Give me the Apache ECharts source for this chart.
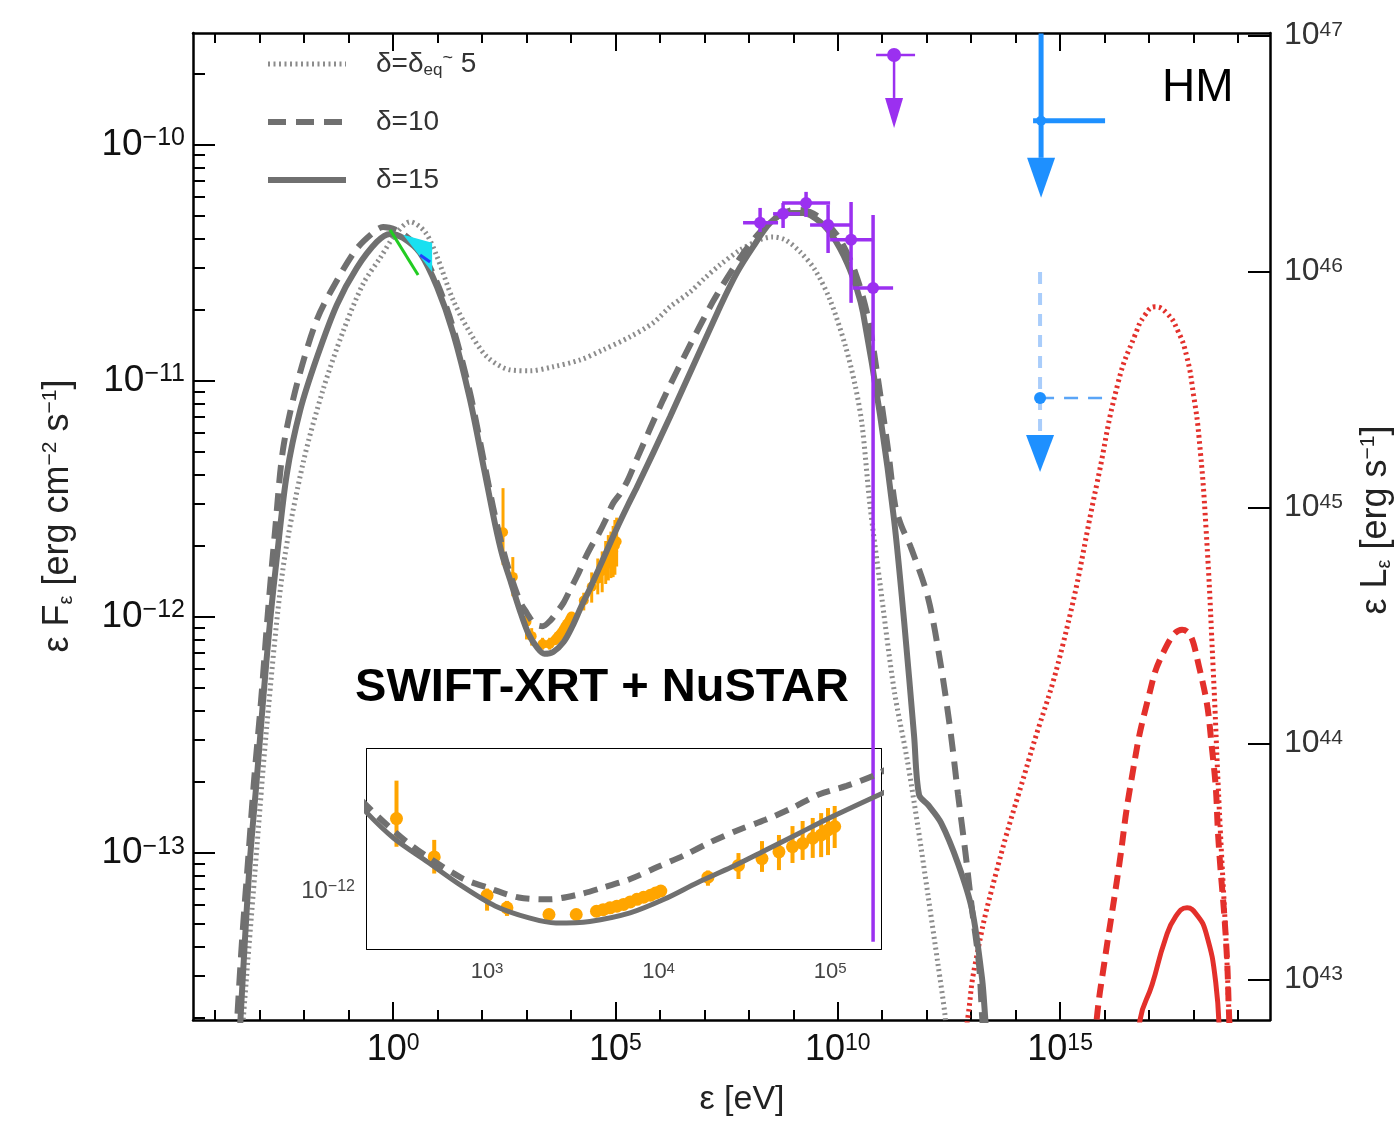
<!DOCTYPE html>
<html><head><meta charset="utf-8">
<script src="https://cdn.jsdelivr.net/npm/echarts@6.0.0/dist/echarts.min.js"></script>
<style>html,body{margin:0;padding:0;background:#fff}#c{width:1395px;height:1123px}</style>
</head><body><div id="c"></div><script>
// ---- DATA: [log10(eps/eV), log10(eps F_eps / erg cm^-2 s^-1)] ----
const dottedModel = [[-3.40,-13.80],[-3.373,-13.712],[-3.103,-13.073],[-2.840,-12.463],[-2.474,-11.794],[-2.024,-11.349],[-1.574,-11.038],[-1.124,-10.792],[-0.675,-10.591],[-0.292,-10.481],[0.045,-10.383],[0.382,-10.328],[0.720,-10.371],[0.989,-10.476],[1.349,-10.659],[1.731,-10.798],[2.114,-10.900],[2.631,-10.955],[3.081,-10.959],[3.598,-10.942],[4.205,-10.913],[4.722,-10.870],[5.329,-10.815],[5.847,-10.756],[6.229,-10.688],[6.679,-10.625],[7.016,-10.565],[7.353,-10.510],[7.803,-10.447],[8.253,-10.404],[8.523,-10.392],[8.815,-10.404],[9.152,-10.455],[9.490,-10.532],[9.827,-10.659],[10.164,-10.849],[10.389,-11.019],[10.546,-11.188],[10.726,-11.531],[10.951,-11.862],[11.266,-12.310],[11.558,-12.603],[11.806,-12.895],[12.031,-13.183],[12.255,-13.475],[12.413,-13.691],[12.45,-13.80]];
const dashedModel = [[-3.53,-13.80],[-3.508,-13.712],[-3.396,-13.369],[-3.261,-13.031],[-3.126,-12.692],[-2.968,-12.353],[-2.811,-11.972],[-2.653,-11.633],[-2.474,-11.29],[-2.159,-11.013],[-1.709,-10.740],[-1.259,-10.575],[-0.810,-10.440],[-0.360,-10.360],[-0.225,-10.350],[0.157,-10.371],[0.607,-10.447],[0.989,-10.587],[1.349,-10.777],[1.731,-11.053],[2.05,-11.35],[2.30,-11.581],[2.555,-11.773],[2.85,-11.935],[3.008,-11.985],[3.185,-12.032],[3.362,-12.041],[3.540,-12.016],[3.677,-11.983],[3.835,-11.941],[3.993,-11.882],[4.150,-11.824],[4.308,-11.757],[4.466,-11.699],[4.623,-11.649],[4.781,-11.590],[4.938,-11.523],[5.096,-11.482],[5.273,-11.424],[5.487,-11.33],[6.071,-11.082],[6.679,-10.849],[7.241,-10.650],[7.803,-10.481],[8.253,-10.371],[8.702,-10.299],[9.040,-10.277],[9.377,-10.286],[9.714,-10.328],[10.052,-10.404],[10.389,-10.540],[10.681,-10.735],[10.906,-10.997],[11.131,-11.294],[11.288,-11.527],[11.423,-11.612],[11.648,-11.709],[12.031,-11.921],[12.323,-12.213],[12.548,-12.505],[12.705,-12.755],[12.863,-12.988],[13.020,-13.242],[13.177,-13.475],[13.245,-13.691],[13.29,-13.80]];
const solidModel = [[-3.46,-13.80],[-3.328,-13.357],[-3.216,-13.022],[-3.065,-12.687],[-2.923,-12.353],[-2.766,-12.018],[-2.615,-11.751],[-2.390,-11.396],[-2.091,-11.127],[-1.716,-10.904],[-1.266,-10.680],[-0.816,-10.523],[-0.367,-10.413],[-0.067,-10.379],[0.225,-10.396],[0.607,-10.460],[0.989,-10.604],[1.349,-10.798],[1.731,-11.082],[2.05,-11.38],[2.30,-11.615],[2.456,-11.740],[2.653,-11.857],[2.850,-11.974],[3.047,-12.074],[3.245,-12.133],[3.402,-12.158],[3.599,-12.150],[3.834,-12.108],[4.032,-12.041],[4.229,-11.958],[4.426,-11.882],[4.623,-11.799],[4.820,-11.715],[5.017,-11.632],[5.293,-11.523],[5.487,-11.45],[6.229,-11.154],[7.353,-10.688],[7.736,-10.542],[8.095,-10.434],[8.478,-10.332],[8.860,-10.290],[9.220,-10.290],[9.602,-10.328],[9.894,-10.392],[10.209,-10.502],[10.434,-10.616],[10.569,-10.714],[10.951,-11.146],[11.266,-11.590],[11.491,-12.018],[11.716,-12.505],[11.828,-12.755],[12.031,-12.798],[12.323,-12.874],[12.705,-13.047],[13.020,-13.242],[13.245,-13.534],[13.312,-13.691],[13.35,-13.80]];
const neutrinoDotted = [[12.85,-13.80],[12.930,-13.691],[13.087,-13.475],[13.560,-13.086],[14.302,-12.603],[15.066,-12.116],[15.831,-11.434],[16.303,-11.010],[16.686,-10.807],[16.911,-10.722],[17.135,-10.688],[17.40,-10.715],[17.65,-10.790],[17.85,-10.900],[18.00,-11.060],[18.125,-11.243],[18.282,-11.629],[18.440,-12.213],[18.575,-12.798],[18.732,-13.378],[18.800,-13.691],[18.83,-13.80]];
const neutrinoDashed = [[15.80,-13.80],[15.831,-13.691],[15.988,-13.475],[16.303,-13.086],[16.596,-12.700],[16.978,-12.349],[17.360,-12.137],[17.742,-12.056],[18.125,-12.213],[18.440,-12.603],[18.575,-12.988],[18.732,-13.378],[18.800,-13.691],[18.82,-13.80]];
const neutrinoSolid = [[16.76,-13.80],[16.798,-13.708],[17.068,-13.560],[17.360,-13.370],[17.60,-13.270],[17.855,-13.234],[18.08,-13.265],[18.282,-13.340],[18.50,-13.55],[18.58,-13.80]];
// X-ray (SWIFT-XRT + NuSTAR): [logE, logF, logF_low, logF_high]
const xrtNustar = [[2.472,-11.643,-11.782,-11.456],[2.692,-11.832,-11.914,-11.748],[3.000,-12.022,-12.097,-11.988],[3.116,-12.083,-12.123,-12.049],[3.361,-12.116,-12.14,-12.09],[3.520,-12.116,-12.14,-12.09],[3.638,-12.100,-12.12,-12.08],[3.677,-12.092,-12.11,-12.075],[3.717,-12.083,-12.10,-12.065],[3.757,-12.075,-12.095,-12.057],[3.796,-12.066,-12.085,-12.05],[3.835,-12.054,-12.073,-12.037],[3.874,-12.041,-12.06,-12.025],[3.913,-12.031,-12.05,-12.015],[3.953,-12.021,-12.04,-12.005],[3.983,-12.010,-12.03,-11.993],[4.013,-12.000,-12.02,-11.985],[4.288,-11.932,-11.974,-11.899],[4.466,-11.874,-11.941,-11.813],[4.603,-11.840,-11.906,-11.754],[4.702,-11.807,-11.897,-11.724],[4.781,-11.782,-11.862,-11.680],[4.840,-11.766,-11.847,-11.655],[4.899,-11.740,-11.837,-11.640],[4.948,-11.724,-11.833,-11.616],[4.988,-11.699,-11.823,-11.591],[5.027,-11.682,-11.788,-11.581]];
// gamma rays: [logE, logF, logE_low, logE_high, logF_low, logF_high]
const fermiPoints = [[8.253,-10.332,7.870,8.657,-10.371,-10.269],[8.770,-10.294,8.545,9.152,-10.354,-10.248],[9.287,-10.248,8.748,9.827,-10.307,-10.201],[9.782,-10.341,9.377,10.277,-10.460,-10.256],[10.299,-10.404,9.827,10.794,-10.671,-10.244],[10.794,-10.608,10.344,11.244,-13.378,-10.299]];
// upper limits: [logE, logF, logE_low, logE_high, logF_high]
const fermiUpperLimit = [[11.266,-9.621,10.861,11.738,-9.621]];
const neutrinoUpperLimit = [[14.572,-9.900,14.392,16.011,-9.53]];
const neutrinoUpperLimitDashed = [[14.549,-11.074,14.549,16.011,-10.540]];
// optical / UV
const opticalGreen = [[-0.067,-10.362],[0.562,-10.553]];
const uvBowtie = [[0.225,-10.383,0.877,-10.417,0.877,-10.540]];
const uvBlue = [[0.607,-10.468],[0.832,-10.498]];
// ticks
const xDecades = [-4,-3,-2,-1,0,1,2,3,4,5,6,7,8,9,10,11,12,13,14,15,16,17,18,19];
const xMajor = [0,5,10,15];
const yMajor = [-13,-12,-11,-10];
const yDecadesMinor = [-14,-13,-12,-11,-10];
const rightMajor = [43,44,45,46,47];
const insetXMajor = [3,4,5];
const insetYMajor = [-12];
const insetYDecades = [-13,-12];
const legendLabels = {d5:'δ=δ{sub|eq}{sup|~} 5', d10:'δ=10', d15:'δ=15'};

// ---- axis ranges ----
const X_MIN=-4.5, X_MAX=19.72, Y_MIN=-13.709, Y_MAX=-9.528, R_OFF=56.538;
const IX_MIN=2.30, IX_MAX=5.297, IY_MIN=-12.286, IY_MAX=-11.300;
const FONT='"Liberation Sans", Arial, Helvetica, sans-serif';

function minorOf(decades, lo, hi){
  const out=[]; decades.forEach(d=>{for(let k=2;k<=9;k++){const v=d+Math.log10(k); if(v>lo&&v<hi) out.push(v);}}); return out;
}
const yMinor = minorOf(yDecadesMinor, Y_MIN, Y_MAX);
const insetYMinor = minorOf(insetYDecades, IY_MIN, IY_MAX);

function expLabel(v){ const n=Math.round(v); return '{b|10}{s|'+(n<0?'\u2212'+(-n):n)+'}'; }
function axisBase(extra){
  return Object.assign({type:'value', splitLine:{show:false},
    axisLine:{show:true,onZero:false,lineStyle:{color:'#000',width:2.5}},
    axisTick:{show:false}, axisLabel:{show:false}}, extra);
}
function noLine(){ return {show:false,onZero:false}; }
function ticks(values,len,w){ return {show:true,inside:true,length:len,customValues:values,lineStyle:{color:'#000',width:w||2}}; }
function labels(values,fs,ss,margin,color){
  return {show:true,customValues:values,margin:margin,formatter:expLabel,color:color,fontFamily:FONT,fontSize:fs,
    rich:{b:{fontSize:fs,fontFamily:FONT,color:color},s:{fontSize:ss,fontFamily:FONT,color:color,verticalAlign:'top'}}};
}

function curve(name,data,color,width,type,xi,yi,z,sm){
  return {type:'line',name:name,data:data,xAxisIndex:xi,yAxisIndex:yi,showSymbol:false,symbol:'none',smooth:sm||0.3,
    lineStyle:{color:color,width:width,type:type,cap:'butt'},itemStyle:{color:color},z:z,silent:true,clip:true,animation:false};
}
function pointErr(color,r,lw){ return function(params,api){
  const x=api.value(0), p=api.coord([x,api.value(1)]), lo=api.coord([x,api.value(2)]), hi=api.coord([x,api.value(3)]);
  return {type:'group',children:[
    {type:'line',shape:{x1:p[0],y1:lo[1],x2:p[0],y2:hi[1]},style:{stroke:color,lineWidth:lw}},
    {type:'circle',shape:{cx:p[0],cy:p[1],r:r},style:{fill:color}}]};
};}
function xyErr(color,r,lw){ return function(params,api){
  const x=api.value(0), y=api.value(1);
  const p=api.coord([x,y]), xl=api.coord([api.value(2),y]), xh=api.coord([api.value(3),y]), yl=api.coord([x,api.value(4)]), yh=api.coord([x,api.value(5)]);
  return {type:'group',children:[
    {type:'line',shape:{x1:xl[0],y1:p[1],x2:xh[0],y2:p[1]},style:{stroke:color,lineWidth:lw}},
    {type:'line',shape:{x1:p[0],y1:yl[1],x2:p[0],y2:yh[1]},style:{stroke:color,lineWidth:lw}},
    {type:'circle',shape:{cx:p[0],cy:p[1],r:r},style:{fill:color}}]};
};}
function upperLimit(o){ return function(params,api){
  const x=api.value(0), y=api.value(1);
  const p=api.coord([x,y]), xl=api.coord([api.value(2),y]), xh=api.coord([api.value(3),y]), yh=api.coord([x,api.value(4)]);
  const tip=p[1]+o.arrow, base=tip-o.headH;
  const vs={stroke:o.vColor||o.color,lineWidth:o.lw}, hs={stroke:o.hColor||o.color,lineWidth:o.hlw||o.lw};
  if(o.dash){vs.lineDash=o.dash; hs.lineDash=o.hdash||o.dash;}
  return {type:'group',children:[
    {type:'line',shape:{x1:xl[0],y1:p[1],x2:xh[0],y2:p[1]},style:hs},
    {type:'line',shape:{x1:p[0],y1:yh[1],x2:p[0],y2:base},style:vs},
    {type:'polygon',shape:{points:[[p[0]-o.headW/2,base],[p[0]+o.headW/2,base],[p[0],tip]]},style:{fill:o.color}},
    {type:'circle',shape:{cx:p[0],cy:p[1],r:o.r},style:{fill:o.color}}]};
};}
function bowtie(color){ return function(params,api){
  const a=api.coord([api.value(0),api.value(1)]), b=api.coord([api.value(2),api.value(3)]), c=api.coord([api.value(4),api.value(5)]);
  return {type:'polygon',shape:{points:[a,b,c]},style:{fill:color}};
};}

const GRAY='#707070', DOT='#8c8c8c', RED='#e3302b', ORANGE='#ffa500', PURPLE='#9b30f0', BLUE='#1e90ff';

const option = {
  animation:false,
  backgroundColor:'#fff',
  grid:[
    {left:193,top:33,width:1077,height:987,containLabel:false,outerBoundsMode:'none'},
    {left:367,top:749,width:514,height:200,containLabel:false,outerBoundsMode:'none',show:true,backgroundColor:'#fff',borderWidth:0,z:3}
  ],
  xAxis:[
    axisBase({gridIndex:0,position:'bottom',min:X_MIN,max:X_MAX,axisTick:ticks(xDecades,10)}),
    axisBase({gridIndex:0,position:'bottom',min:X_MIN,max:X_MAX,axisLine:noLine(),axisTick:ticks(xMajor,18),axisLabel:labels(xMajor,36,23,12,'#111')}),
    axisBase({gridIndex:0,position:'top',min:X_MIN,max:X_MAX,axisTick:ticks(xDecades,10)}),
    axisBase({gridIndex:0,position:'top',min:X_MIN,max:X_MAX,axisLine:noLine(),axisTick:ticks(xMajor,18)}),
    axisBase({gridIndex:1,position:'bottom',min:IX_MIN,max:IX_MAX,axisLine:{show:true,onZero:false,lineStyle:{color:'#000',width:2}},axisTick:ticks(insetXMajor,7),axisLabel:labels(insetXMajor,22,15,12,'#444')}),
    axisBase({gridIndex:1,position:'top',min:IX_MIN,max:IX_MAX,axisLine:{show:true,onZero:false,lineStyle:{color:'#000',width:2}},axisTick:ticks(insetXMajor,7)})
  ],
  yAxis:[
    axisBase({gridIndex:0,position:'left',min:Y_MIN,max:Y_MAX,axisTick:ticks(yMajor,22),axisLabel:labels(yMajor,37,25,8,'#111')}),
    axisBase({gridIndex:0,position:'left',min:Y_MIN,max:Y_MAX,axisLine:noLine(),axisTick:ticks(yMinor,12)}),
    axisBase({gridIndex:0,position:'right',min:Y_MIN+R_OFF,max:Y_MAX+R_OFF,axisTick:ticks(rightMajor,22),axisLabel:labels(rightMajor,32,21,14,'#333')}),
    axisBase({gridIndex:1,position:'left',min:IY_MIN,max:IY_MAX,axisLine:{show:true,onZero:false,lineStyle:{color:'#000',width:2}},axisTick:ticks(insetYMajor,9),axisLabel:labels(insetYMajor,24,16,12,'#444')}),
    axisBase({gridIndex:1,position:'left',min:IY_MIN,max:IY_MAX,axisLine:noLine(),axisTick:ticks(insetYMinor,5)}),
    axisBase({gridIndex:1,position:'right',min:IY_MIN,max:IY_MAX,axisLine:{show:true,onZero:false,lineStyle:{color:'#000',width:2}},axisTick:ticks(insetYMajor,9)}),
    axisBase({gridIndex:1,position:'right',min:IY_MIN,max:IY_MAX,axisLine:noLine(),axisTick:ticks(insetYMinor,5)})
  ],
  legend:{show:true,data:['d5','d10','d15'],orient:'vertical',left:260,top:44,itemWidth:78,itemHeight:16,itemGap:28,selectedMode:false,
    formatter:function(n){return legendLabels[n];},
    lineStyle:{width:'inherit'},
    itemStyle:{opacity:0,borderWidth:0},
    textStyle:{fontFamily:FONT,fontSize:28,color:'#333',lineHeight:30,padding:[0,0,0,25],
      rich:{sub:{fontSize:17,fontFamily:FONT,color:'#333',verticalAlign:'bottom'},sup:{fontSize:18,fontFamily:FONT,color:'#333',verticalAlign:'top'}}}},
  series:[
    curve('d5',dottedModel,DOT,5,[2,3.5],0,0,3),
    curve('d10',dashedModel,GRAY,6,[18,10],0,0,4),
    curve('d15',solidModel,GRAY,6,'solid',0,0,5),
    curve('nu5',neutrinoDotted,RED,5,[2.5,3.5],0,0,3,0.5),
    curve('nu10',neutrinoDashed,RED,6,[14,8],0,0,3,0.5),
    curve('nu15',neutrinoSolid,RED,5,'solid',0,0,3,0.5),
    curve('opt',opticalGreen,'#22cc22',3,'solid',0,0,6),
    {type:'custom',name:'uv',xAxisIndex:0,yAxisIndex:0,data:uvBowtie,renderItem:bowtie('#19e0f0'),z:6,silent:true},
    curve('uvb',uvBlue,'#2040ff',3,'solid',0,0,7),
    {type:'custom',name:'xrt',xAxisIndex:0,yAxisIndex:0,data:xrtNustar,renderItem:pointErr(ORANGE,5,3),z:4,silent:true},
    {type:'custom',name:'lat',xAxisIndex:0,yAxisIndex:0,data:fermiPoints,renderItem:xyErr(PURPLE,6,3.5),z:6,silent:true},
    {type:'custom',name:'latUL',xAxisIndex:0,yAxisIndex:0,data:fermiUpperLimit,renderItem:upperLimit({color:PURPLE,lw:2.5,r:7,arrow:73,headH:30,headW:18}),z:6,silent:true},
    {type:'custom',name:'nuUL',xAxisIndex:0,yAxisIndex:0,data:neutrinoUpperLimit,renderItem:upperLimit({color:BLUE,lw:5,r:5,arrow:77,headH:40,headW:28}),z:6,silent:true},
    {type:'custom',name:'nuULd',xAxisIndex:0,yAxisIndex:0,data:neutrinoUpperLimitDashed,renderItem:upperLimit({color:BLUE,vColor:'#a9cdfb',hColor:'#5aa5f7',lw:4,hlw:2.5,dash:[12,9],hdash:[14,10],r:6,arrow:74,headH:37,headW:28}),z:6,silent:true},
    // inset
    curve('i10',dashedModel,GRAY,6,[14,9],4,3,10),
    curve('i15',solidModel,GRAY,5,'solid',4,3,11),
    {type:'custom',name:'ixrt',xAxisIndex:4,yAxisIndex:3,data:xrtNustar,renderItem:pointErr(ORANGE,6.5,4),z:9,silent:true,clip:true}
  ],
  graphic:[
    {type:'text',x:1162,y:88,z:20,style:{text:'HM',fontSize:46,fontFamily:FONT,fill:'#000',verticalAlign:'middle',textVerticalAlign:'middle'}},
    {type:'text',x:602,y:688,z:20,style:{text:'SWIFT-XRT + NuSTAR',fontSize:47,fontWeight:'bold',fontFamily:FONT,fill:'#000',align:'center',textAlign:'center',verticalAlign:'middle',textVerticalAlign:'middle'}},
    {type:'text',x:742,y:1100,z:20,style:{text:'ε [eV]',fontSize:34,fontFamily:FONT,fill:'#222',align:'center',textAlign:'center',verticalAlign:'middle',textVerticalAlign:'middle'}},
    {type:'text',x:58,y:516,rotation:Math.PI/2,z:20,style:{text:'ε F{sub|ε} [erg cm{sup|\u22122} s{sup|\u22121}]',fontSize:36,fontFamily:FONT,fill:'#222',align:'center',textAlign:'center',verticalAlign:'middle',textVerticalAlign:'middle',
      rich:{sub:{fontSize:20,fontFamily:FONT,fill:'#222',verticalAlign:'bottom'},sup:{fontSize:21,fontFamily:FONT,fill:'#222',verticalAlign:'top'}}}},
    {type:'text',x:1376,y:520,rotation:Math.PI/2,z:20,style:{text:'ε L{sub|ε} [erg s{sup|\u22121}]',fontSize:36,fontFamily:FONT,fill:'#222',align:'center',textAlign:'center',verticalAlign:'middle',textVerticalAlign:'middle',
      rich:{sub:{fontSize:20,fontFamily:FONT,fill:'#222',verticalAlign:'bottom'},sup:{fontSize:21,fontFamily:FONT,fill:'#222',verticalAlign:'top'}}}}
  ]
};
const chart = echarts.init(document.getElementById('c'));
chart.setOption(option);
</script></body></html>
